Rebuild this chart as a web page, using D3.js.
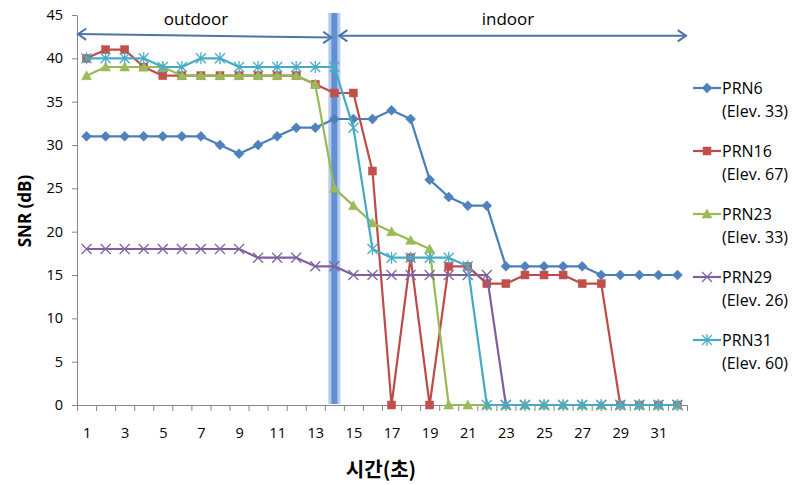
<!DOCTYPE html>
<html><head><meta charset="utf-8">
<script src="https://cdn.jsdelivr.net/npm/d3@7"></script>
<style>
body{margin:0;background:#fff;}
svg{display:block;font-family:"Open Sans","Noto Sans",sans-serif;}
</style></head>
<body><svg id="c" width="801" height="485"></svg>
<script>
const times = d3.range(1, 33);
const xTickLabels = [1,3,5,7,9,11,13,15,17,19,21,23,25,27,29,31];
const yTicks = [0,5,10,15,20,25,30,35,40,45];
const seriesNames = ["PRN6","PRN16","PRN23","PRN29","PRN31"];
const seriesElev = ["(Elev. 33)","(Elev. 67)","(Elev. 33)","(Elev. 26)","(Elev. 60)"];
const prn6  = [31,31,31,31,31,31,31,30,29,30,31,32,32,33,33,33,34,33,26,24,23,23,16,16,16,16,16,15,15,15,15,15];
const prn16 = [40,41,41,39,38,38,38,38,38,38,38,38,37,36,36,27,0,17,0,16,16,14,14,15,15,15,14,14,0,0,0,0];
const prn23 = [38,39,39,39,39,38,38,38,38,38,38,38,37,25,23,21,20,19,18,0,0,0,0,0,0,0,0,0,0,0,0,0];
const prn29 = [18,18,18,18,18,18,18,18,18,17,17,17,16,16,15,15,15,15,15,15,15,15,0,0,0,0,0,0,0,0,0,0];
const prn31 = [40,40,40,40,39,39,40,40,39,39,39,39,39,39,32,18,17,17,17,17,16,0,0,0,0,0,0,0,0,0,0,0];
const regionLabels = ["outdoor","indoor"];
const boundaryTime = 14;
const outdoorArrow = [[0.55,42.8],[13.85,42.4]];
const indoorArrow = [[14.25,42.6],[32.45,42.6]];
const yTitle = "SNR (dB)";
const xTitle = "시간(초)";

const allSeries = [prn6, prn16, prn23, prn29, prn31];
const lineColors = ["#4A7EBB","#BE4B48","#98B954","#7D60A0","#46AAC5"];
const markColors = ["#4F81BD","#C0504D","#9BBB59","#8064A2","#4BACC6"];
const markerKinds = ["diamond","square","triangle","x","star"];

const svg = d3.select("#c");
const L = 77, R = 687, T = 15, B = 405;
const x = d3.scaleLinear().domain([0.5, 32.5]).range([L, R]);
const y = d3.scaleLinear().domain([0, 45]).range([B, T]);
const axisColor = "#868686";

// boundary band
const bx = x(boundaryTime);
svg.append("rect").attr("x", bx-6).attr("y", y(45)-2).attr("width", 12).attr("height", B-y(45)+1)
  .attr("fill", "#b4cbec");
svg.append("rect").attr("x", bx-3).attr("y", y(45)-2).attr("width", 6).attr("height", B-y(45)+1)
  .attr("fill", "#6390d2");

// axes
const yAxis = svg.append("g").attr("transform", `translate(${L},0)`)
  .call(d3.axisLeft(y).tickValues(yTicks).tickSize(5).tickPadding(9).tickSizeOuter(0));
const xAxisTicks = svg.append("g").attr("transform", `translate(0,${B})`)
  .call(d3.axisBottom(x).tickValues(d3.range(0.5, 33, 1)).tickFormat("").tickSize(6).tickSizeOuter(0));
const xAxisLabels = svg.append("g").attr("transform", `translate(0,${B})`)
  .call(d3.axisBottom(x).tickValues(xTickLabels).tickSize(0).tickPadding(23));
xAxisLabels.select(".domain").remove();
[yAxis, xAxisTicks, xAxisLabels].forEach(g=>{
  g.selectAll(".domain").attr("stroke", axisColor).attr("stroke-width",1);
  g.selectAll(".tick line").attr("stroke", axisColor);
  g.selectAll("text").attr("font-size", 14.5).attr("fill", "#000")
    .attr("font-family", "'Open Sans','Noto Sans',sans-serif");
});

// marker symbol generators
function drawMarker(g, kind, cx, cy, color){
  if(kind==="diamond"){
    g.append("path").attr("d", `M${cx},${cy-5}L${cx+5},${cy}L${cx},${cy+5}L${cx-5},${cy}Z`).attr("fill", color).attr("stroke", color).attr("stroke-width",0.5);
  } else if(kind==="square"){
    g.append("rect").attr("x", cx-4).attr("y", cy-4).attr("width", 8).attr("height", 8).attr("fill", color).attr("stroke", color).attr("stroke-width",0.5);
  } else if(kind==="triangle"){
    g.append("path").attr("d", `M${cx},${cy-5}L${cx+5},${cy+4}L${cx-5},${cy+4}Z`).attr("fill", color).attr("stroke", color).attr("stroke-width",0.5);
  } else if(kind==="x"){
    g.append("path").attr("d", `M${cx-5},${cy-5}L${cx+5},${cy+5}M${cx-5},${cy+5}L${cx+5},${cy-5}`).attr("stroke", color).attr("stroke-width",1.3).attr("fill","none");
  } else if(kind==="star"){
    g.append("path").attr("d", `M${cx-5},${cy-5}L${cx+5},${cy+5}M${cx-5},${cy+5}L${cx+5},${cy-5}M${cx},${cy-6}L${cx},${cy+6}`).attr("stroke", color).attr("stroke-width",1.3).attr("fill","none");
  }
}

const line = d3.line().x((d,i)=>x(times[i])).y(d=>y(d));
allSeries.forEach((vals, si)=>{
  const g = svg.append("g");
  g.append("path").datum(vals).attr("d", line).attr("fill","none")
    .attr("stroke", lineColors[si]).attr("stroke-width", 2.2).attr("stroke-linejoin","round");
  vals.forEach((v,i)=> drawMarker(g, markerKinds[si], x(times[i]), y(v), markColors[si]));
});

// region arrows
const arrowColor = "#4D74A9";
function arrow(p0, p1){
  const x0 = x(p0[0]), y0 = y(p0[1]), x1 = x(p1[0]), y1 = y(p1[1]);
  svg.append("line").attr("x1",x0).attr("y1",y0).attr("x2",x1).attr("y2",y1)
    .attr("stroke", arrowColor).attr("stroke-width", 2);
  const ang = Math.atan2(y1-y0, x1-x0);
  [[x0,y0,ang+Math.PI],[x1,y1,ang]].forEach(([px,py,a])=>{
    const l = 10, w = 0.6;
    svg.append("path").attr("d",
      `M${px-l*Math.cos(a-w)},${py-l*Math.sin(a-w)}L${px},${py}L${px-l*Math.cos(a+w)},${py-l*Math.sin(a+w)}`)
      .attr("stroke", arrowColor).attr("stroke-width", 2).attr("fill","none");
  });
}
arrow(outdoorArrow[0], outdoorArrow[1]);
arrow(indoorArrow[0], indoorArrow[1]);
svg.append("text").attr("x", 196).attr("y", 25).attr("text-anchor","middle")
  .attr("font-size", 17).text(regionLabels[0]);
svg.append("text").attr("x", 508).attr("y", 25).attr("text-anchor","middle")
  .attr("font-size", 17).text(regionLabels[1]);

// axis titles
svg.append("text").attr("transform", "translate(31,211) rotate(-90)").attr("text-anchor","middle")
  .attr("font-size", 17).attr("font-weight","bold").text(yTitle);
svg.append("text").attr("x", 381).attr("y", 477).attr("text-anchor","middle")
  .attr("font-family", "'Noto Sans CJK KR',sans-serif")
  .attr("font-size", 20).attr("font-weight","bold").text(xTitle);

// legend
seriesNames.forEach((name, si)=>{
  const cy = 88 + si*63;
  const g = svg.append("g");
  g.append("line").attr("x1", 693).attr("x2", 721).attr("y1", cy).attr("y2", cy)
    .attr("stroke", lineColors[si]).attr("stroke-width", 2.2);
  drawMarker(g, markerKinds[si], 707, cy, markColors[si]);
  g.append("text").attr("x", 722).attr("y", cy).attr("dy","0.35em").attr("font-size", 16).text(name);
  g.append("text").attr("x", 722).attr("y", cy+23).attr("dy","0.35em").attr("font-size", 16).text(seriesElev[si]);
});
</script></body></html>
